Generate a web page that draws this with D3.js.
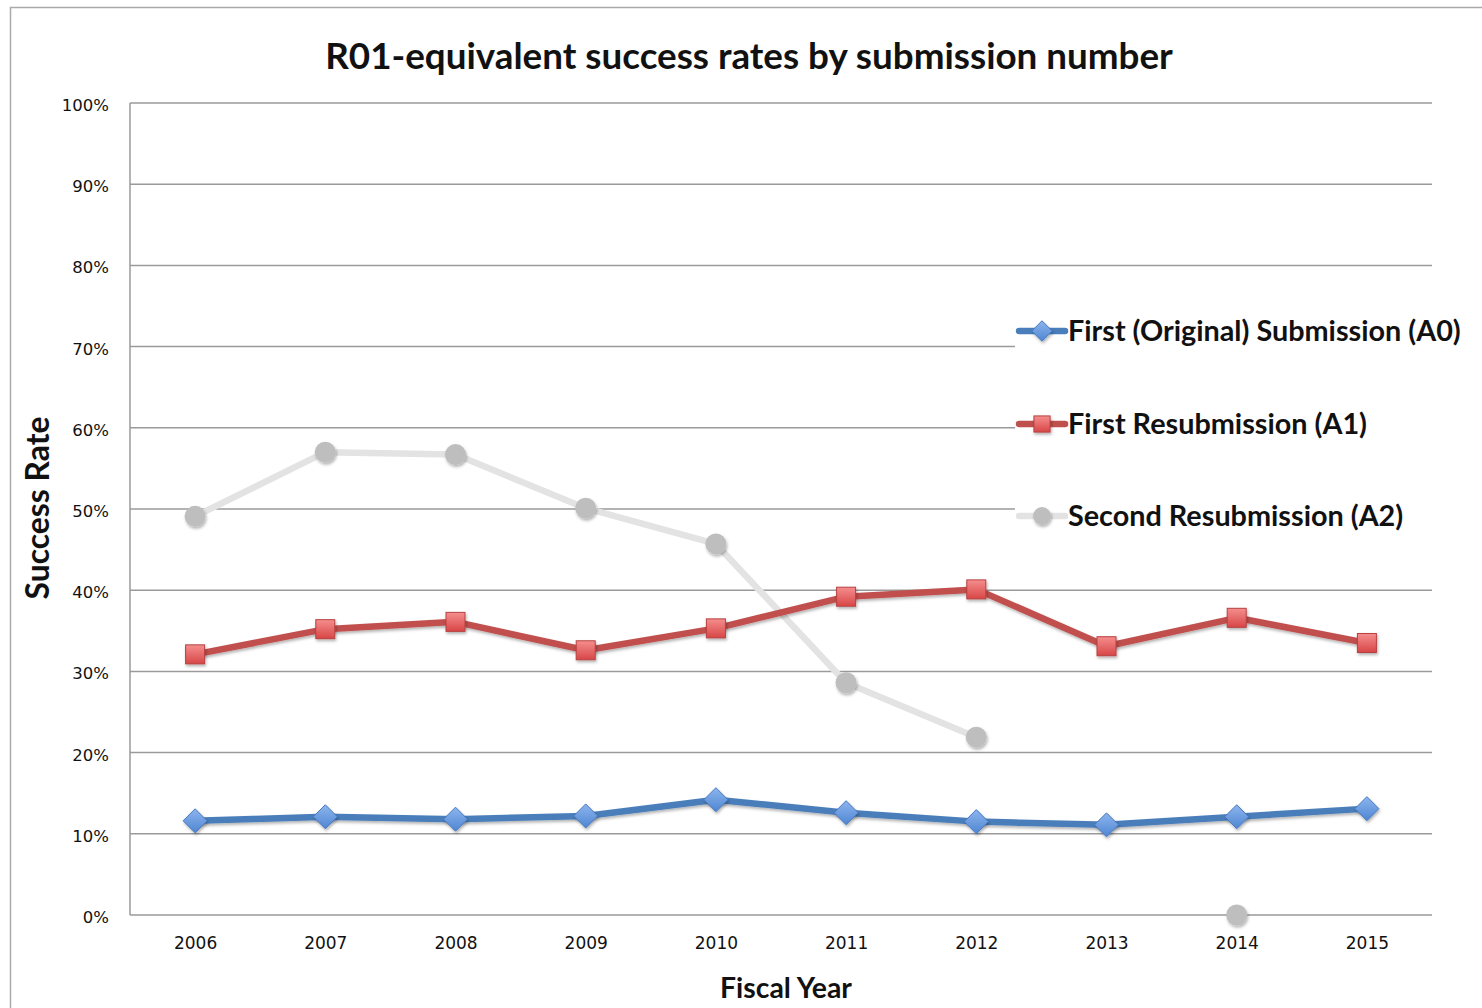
<!DOCTYPE html>
<html><head><meta charset="utf-8">
<script src="https://cdn.jsdelivr.net/npm/d3@7"></script>
<style>body{margin:0;background:#fff}svg{display:block}</style>
</head><body>
<svg id="c" width="1482" height="1008"></svg>
<script>
const years = ["2006","2007","2008","2009","2010","2011","2012","2013","2014","2015"];
const a0 = [11.6, 12.1, 11.8, 12.2, 14.2, 12.6, 11.5, 11.1, 12.1, 13.1];
const a1 = [32.1, 35.2, 36.1, 32.6, 35.3, 39.2, 40.1, 33.1, 36.6, 33.5];
const a2 = [49.1, 57.0, 56.7, 50.1, 45.7, 28.6, 21.9, null, 0, null];
const yTicks = [0,10,20,30,40,50,60,70,80,90,100];
const seriesNames = ["First (Original) Submission (A0)","First Resubmission (A1)","Second Resubmission (A2)"];
const titleText = "R01-equivalent success rates by submission number";

const FONT = "Lato, 'Open Sans', sans-serif";
const TFONT = "'DejaVu Sans', sans-serif";
const svg = d3.select("#c");
const W = 1482, H = 1008;
const m = {l:130, r:50, t:103, b:93};
const x = d3.scalePoint().domain(years).range([m.l, W - m.r]).padding(0.5);
const y = d3.scaleLinear().domain([0,100]).range([H - m.b, m.t]);

const defs = svg.append("defs");
const f = defs.append("filter").attr("id","sh").attr("x","-50%").attr("y","-50%").attr("width","200%").attr("height","200%");
f.append("feDropShadow").attr("dx",1).attr("dy",2).attr("stdDeviation",1.6).attr("flood-color","#000").attr("flood-opacity",0.3);
function grad(id, c1, c2){
  const g = defs.append("linearGradient").attr("id",id).attr("x1",0).attr("y1",0).attr("x2",0).attr("y2",1);
  g.append("stop").attr("offset","0%").attr("stop-color",c1);
  g.append("stop").attr("offset","100%").attr("stop-color",c2);
}
grad("gb","#8db5ee","#4f86d2");
grad("gr","#f58e8e","#d84646");

// outer border
svg.append("path").attr("d","M10.5,1008 V7.5 H1482").attr("fill","none").attr("stroke","#aaa").attr("stroke-width",1.5);

// gridlines
svg.append("g").selectAll("line").data(yTicks).join("line")
  .attr("x1",m.l).attr("x2",W-m.r).attr("y1",d=>y(d)).attr("y2",d=>y(d))
  .attr("stroke","#9a9a9a").attr("stroke-width",1.5);
svg.append("line").attr("x1",m.l).attr("x2",m.l).attr("y1",y(100)).attr("y2",y(0)).attr("stroke","#9a9a9a").attr("stroke-width",1.5);

// y tick labels
const yAxis = d3.axisLeft(y).tickValues(yTicks).tickFormat(d=>d+"%").tickSize(0).tickPadding(21);
const ya = svg.append("g").attr("transform",`translate(${m.l},0)`).call(yAxis);
ya.select(".domain").remove();
ya.selectAll("text").attr("font-family",TFONT).attr("font-size",16.5).attr("fill","#111").attr("dy","0.45em");

// x tick labels
const xAxis = d3.axisBottom(x).tickSize(0).tickPadding(22);
const xa = svg.append("g").attr("transform",`translate(0,${y(0)})`).call(xAxis);
xa.select(".domain").remove();
xa.selectAll("text").attr("font-family",TFONT).attr("font-size",17).attr("fill","#111");

// legend background
svg.append("rect").attr("x",1015).attr("y",300).attr("width",W-1015).attr("height",245).attr("fill","#fff");

const line = d3.line().defined(d=>d.v!=null).x(d=>x(d.k)).y(d=>y(d.v));
function pts(arr){ return years.map((k,i)=>({k, v:arr[i]})); }

const series = [
  {data:a2, stroke:"#e3e3e3", marker:"circle"},
  {data:a1, stroke:"#c0504d", marker:"square"},
  {data:a0, stroke:"#4a7ebb", marker:"diamond"}
];
function drawMarker(g, type, cx, cy, scale){
  scale = scale || 1;
  if(type==="circle"){
    g.append("circle").attr("cx",cx).attr("cy",cy).attr("r",10.5*scale).attr("fill","#bebebe").attr("filter","url(#sh)");
  } else if(type==="square"){
    const s=19*scale;
    g.append("rect").attr("x",cx-s/2).attr("y",cy-s/2).attr("width",s).attr("height",s)
      .attr("fill","url(#gr)").attr("stroke","#b84040").attr("stroke-width",1).attr("filter","url(#sh)");
  } else {
    const r=12*scale;
    g.append("path").attr("d",`M${cx},${cy-r}L${cx+r},${cy}L${cx},${cy+r}L${cx-r},${cy}Z`)
      .attr("fill","url(#gb)").attr("stroke","#4678c0").attr("stroke-width",1).attr("filter","url(#sh)");
  }
}
series.forEach(s=>{
  const p = pts(s.data);
  svg.append("path").datum(p).attr("d",line).attr("fill","none").attr("stroke",s.stroke)
    .attr("stroke-width",6.5).attr("stroke-linejoin","round")
    .attr("filter", s.marker==="circle"?null:"url(#sh)");
  const g = svg.append("g");
  p.filter(d=>d.v!=null).forEach(d=>drawMarker(g, s.marker, x(d.k), y(d.v)));
});

function fit(sel, target){
  const n = sel.node(); const w = n.getComputedTextLength();
  const fs = parseFloat(sel.attr("font-size"));
  const nf = fs*target/w;
  sel.attr("font-size", nf);
  return nf;
}

// legend
const legY = [331, 424, 516];
const legSeries = [series[2], series[1], series[0]];
let legFs = null;
legSeries.forEach((s,i)=>{
  const g = svg.append("g");
  g.append("line").attr("x1",1019).attr("x2",1065).attr("y1",legY[i]).attr("y2",legY[i])
    .attr("stroke",s.stroke).attr("stroke-width",6.5).attr("stroke-linecap","round");
  drawMarker(g, s.marker, 1042, legY[i], 0.85);
  const t = g.append("text").attr("x",1068).attr("y",legY[i]).attr("dy","0.36em")
    .attr("font-family",FONT).attr("font-weight","bold").attr("font-size",legFs||24).attr("fill","#111")
    .text(seriesNames[i]);
  if(i===0) legFs = fit(t, 393);
});

const t = svg.append("text").attr("x",749).attr("y",56).attr("dy","0.36em").attr("text-anchor","middle")
  .attr("font-family",FONT).attr("font-weight","bold").attr("font-size",30).attr("fill","#111").text(titleText);
fit(t, 848);
const yl = svg.append("text").attr("transform","translate(38,508) rotate(-90)").attr("dy","0.36em").attr("text-anchor","middle")
  .attr("font-family",FONT).attr("font-weight","bold").attr("font-size",26).attr("fill","#111").text("Success Rate");
fit(yl, 183);
const xl = svg.append("text").attr("x",786).attr("y",988).attr("dy","0.36em").attr("text-anchor","middle")
  .attr("font-family",FONT).attr("font-weight","bold").attr("font-size",24).attr("fill","#111").text("Fiscal Year");
fit(xl, 132);
</script>
</body></html>
